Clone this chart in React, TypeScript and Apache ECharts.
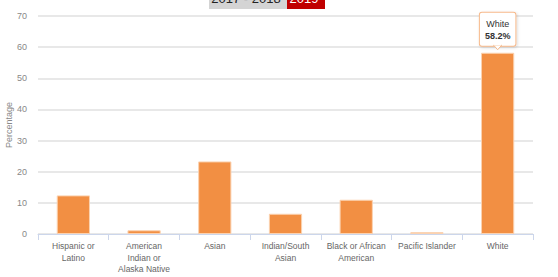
import React, { useEffect, useRef } from "react";
import * as echarts from "echarts";

const categories = [
  "Hispanic or\nLatino",
  "American\nIndian or\nAlaska Native",
  "Asian",
  "Indian/South\nAsian",
  "Black or African\nAmerican",
  "Pacific Islander",
  "White",
];
const values = [12.4, 1.2, 23.3, 6.5, 11.0, 0.6, 58.2];
const highlightIndex = 6;
const highlightName = "White";
const yTicks = { min: 0, max: 70, interval: 10 };
const titleLeft = "2017 - 2018";
const titleRight = "2019";

export default function App() {
  const ref = useRef<HTMLDivElement>(null);
  useEffect(() => {
    if (!ref.current) return;
    const chart = echarts.init(ref.current, undefined, { renderer: "svg" });
    const font = "Liberation Sans, Arial, sans-serif";
    chart.setOption({
      animation: false,
      grid: { left: 38, right: 25, top: 16, bottom: 43, outerBoundsMode: "none", containLabel: false },
      xAxis: {
        type: "category",
        data: categories,
        axisLine: { lineStyle: { color: "#ccd6eb", width: 1 } },
        axisTick: { show: true, length: 6, lineStyle: { color: "#ccd6eb" } },
        axisLabel: {
          color: "#666",
          fontSize: 8.5,
          fontFamily: font,
          lineHeight: 11.7,
          margin: 6,
          interval: 0,
        },
      },
      yAxis: {
        type: "value",
        min: yTicks.min,
        max: yTicks.max,
        interval: yTicks.interval,
        name: "Percentage",
        nameLocation: "middle",
        nameGap: 25,
        nameMoveOverlap: false,
        nameTextStyle: { color: "#888", fontSize: 9, fontFamily: font },
        axisLine: { show: false },
        axisTick: { show: false },
        axisLabel: { color: "#888", fontSize: 9, fontFamily: font, margin: 11 },
        splitLine: { lineStyle: { color: "#e0e0e0", width: 1.5 } },
      },
      series: [
        {
          type: "bar",
          data: values.map((v, i) =>
            i === highlightIndex
              ? {
                  value: v,
                  label: {
                    show: true,
                    position: "top",
                    distance: 7,
                    formatter: `{a|${highlightName}}\n{b|${v}%}`,
                    backgroundColor: "#fff",
                    borderColor: "#f7b98a",
                    borderWidth: 1,
                    borderRadius: 2,
                    padding: [5, 5, 4, 5],
                    shadowColor: "rgba(0,0,0,0.15)",
                    shadowBlur: 3,
                    shadowOffsetX: 1,
                    shadowOffsetY: 1,
                    rich: {
                      a: { fontSize: 9, color: "#333", fontFamily: font, lineHeight: 12 },
                      b: { fontSize: 9, color: "#333", fontWeight: "bold", fontFamily: font, lineHeight: 12 },
                    },
                  },
                }
              : v
          ),
          barWidth: "47%",
          itemStyle: { color: "#f28f43", borderColor: "#fbd2b0", borderWidth: 1 },
        },
      ],
    });
    const tip = chart.convertToPixel({ xAxisIndex: 0, yAxisIndex: 0 }, [highlightIndex, values[highlightIndex]]);
    chart.setOption({
      graphic: [
        { type: "rect", shape: { x: 209, y: -20, width: 78, height: 29 }, style: { fill: "#d4d4d4" } },
        { type: "rect", shape: { x: 287, y: -20, width: 38, height: 29 }, style: { fill: "#c00000" } },
        {
          type: "text",
          x: 246,
          y: 5,
          style: { text: titleLeft, fill: "#222", fontSize: 13, fontFamily: font, align: "center", verticalAlign: "bottom" },
        },
        {
          type: "text",
          x: 304,
          y: 5,
          style: { text: titleRight, fill: "#fff", fontSize: 13, fontFamily: font, align: "center", verticalAlign: "bottom" },
        },
        {
          type: "polygon",
          shape: { points: [[tip[0] - 4, tip[1] - 7.5], [tip[0] + 4, tip[1] - 7.5], [tip[0], tip[1] - 3]] },
          style: { fill: "#fff", stroke: "#f7b98a", lineWidth: 1 },
          z: 100,
        },
        {
          type: "rect",
          shape: { x: tip[0] - 3.5, y: tip[1] - 9, width: 7, height: 1.8 },
          style: { fill: "#fff" },
          z: 101,
        },
      ],
    });
    return () => chart.dispose();
  }, []);
  return <div ref={ref} style={{ width: 558, height: 277, position: "absolute", left: 0, top: 0 }} />;
}
